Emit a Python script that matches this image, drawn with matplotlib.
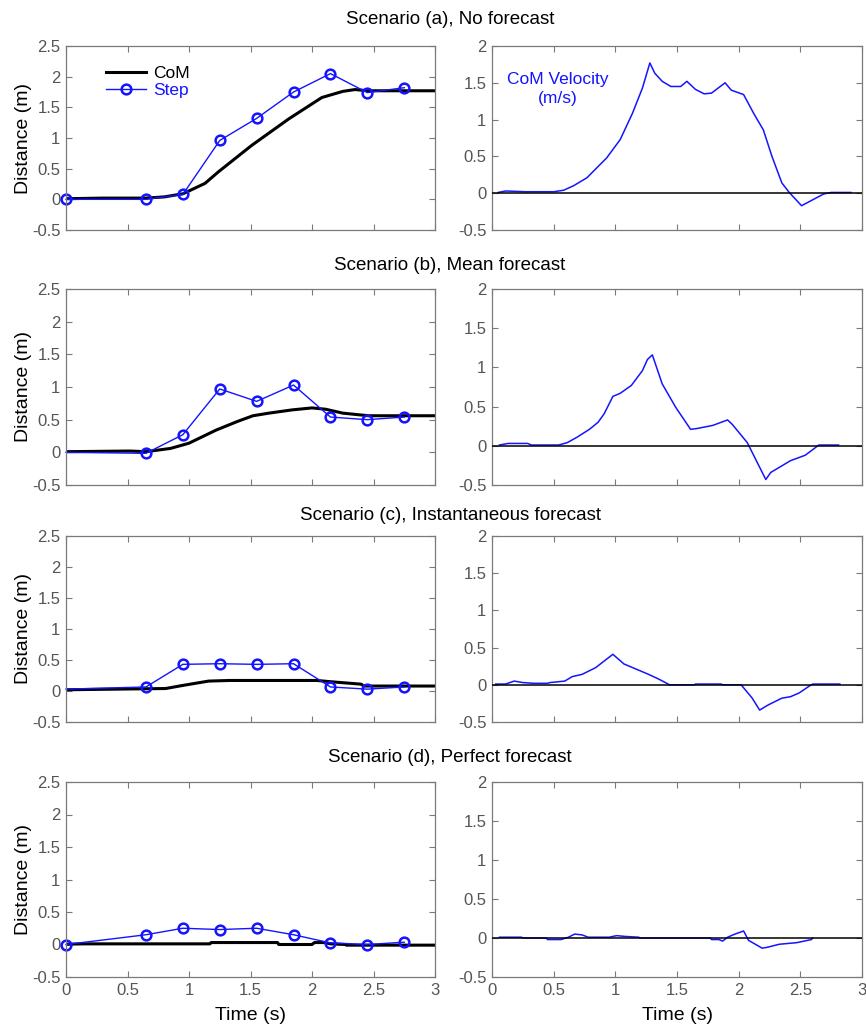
import matplotlib
matplotlib.use("Agg")
import matplotlib.pyplot as plt

plt.rcParams['font.family'] = ['Liberation Sans', 'DejaVu Sans']

# --- data ---
titles = ["Scenario (a), No forecast", "Scenario (b), Mean forecast",
          "Scenario (c), Instantaneous forecast", "Scenario (d), Perfect forecast"]

step_t = [0, 0.65, 0.95, 1.25, 1.55, 1.85, 2.15, 2.45, 2.75]
step_a = [0.0, 0.0, 0.08, 0.96, 1.32, 1.75, 2.05, 1.74, 1.82]
step_b = [0.0, -0.015, 0.27, 0.97, 0.78, 1.03, 0.54, 0.50, 0.54]
step_c = [0.03, 0.065, 0.43, 0.44, 0.43, 0.44, 0.065, 0.03, 0.065]
step_d = [0.0, 0.15, 0.25, 0.23, 0.25, 0.15, 0.025, 0.0, 0.035]

com_t_a = [0, 0.3, 0.65, 0.8, 0.95, 1.13, 1.24, 1.51, 1.81, 2.08, 2.25, 2.35, 2.45, 3.0]
com_a = [0.01, 0.02, 0.02, 0.04, 0.09, 0.26, 0.45, 0.88, 1.31, 1.66, 1.76, 1.79, 1.77, 1.77]

com_t_b = [0, 0.52, 0.65, 0.85, 1.0, 1.22, 1.39, 1.52, 1.65, 1.84, 2.0, 2.11, 2.25, 2.46, 3.0]
com_b = [0.01, 0.02, 0.01, 0.06, 0.14, 0.34, 0.47, 0.56, 0.60, 0.65, 0.68, 0.66, 0.60, 0.56, 0.56]

com_t_c = [0, 0.81, 0.95, 1.16, 1.33, 2.04, 2.15, 2.40, 2.42, 3.0]
com_c = [0.02, 0.04, 0.09, 0.16, 0.17, 0.17, 0.15, 0.11, 0.08, 0.08]

com_t_d = [0, 0.15, 1.17, 1.18, 1.72, 1.73, 2.0, 2.02, 2.1, 2.15, 2.27, 2.28, 3.0]
com_d = [0.005, 0.01, 0.01, 0.03, 0.03, 0.0, 0.0, 0.03, 0.03, 0.01, 0.0, -0.01, -0.01]

vel_t_a = [0.05, 0.11, 0.27, 0.50, 0.58, 0.66, 0.77, 0.93, 1.04, 1.14, 1.22, 1.28, 1.32,
           1.38, 1.45, 1.53, 1.58, 1.65, 1.72, 1.78, 1.89, 1.94, 2.04, 2.12, 2.20, 2.27,
           2.35, 2.41, 2.51, 2.69, 2.75, 2.91]
vel_a = [0.01, 0.03, 0.02, 0.02, 0.04, 0.10, 0.21, 0.48, 0.73, 1.09, 1.43, 1.77, 1.63,
         1.52, 1.45, 1.45, 1.52, 1.41, 1.35, 1.36, 1.50, 1.40, 1.34, 1.09, 0.86, 0.50,
         0.14, 0.01, -0.17, -0.01, 0.01, 0.01]

vel_t_b = [0.06, 0.13, 0.29, 0.32, 0.54, 0.61, 0.69, 0.79, 0.86, 0.91, 0.98, 1.04, 1.13,
           1.22, 1.26, 1.30, 1.38, 1.49, 1.61, 1.66, 1.79, 1.91, 1.95, 2.07, 2.22, 2.26,
           2.42, 2.54, 2.65, 2.81]
vel_b = [0.01, 0.03, 0.03, 0.01, 0.01, 0.04, 0.11, 0.21, 0.30, 0.41, 0.63, 0.67, 0.77,
         0.96, 1.10, 1.16, 0.79, 0.49, 0.21, 0.22, 0.26, 0.33, 0.27, 0.04, -0.43, -0.34,
         -0.19, -0.12, 0.01, 0.01]

vel_t_c = [0.03, 0.11, 0.18, 0.25, 0.34, 0.45, 0.47, 0.59, 0.65, 0.73, 0.84, 0.98, 1.07,
           1.17, 1.27, 1.36, 1.44, 1.64, 1.65, 1.86, 1.87, 2.02, 2.11, 2.17, 2.24, 2.35,
           2.42, 2.49, 2.57, 2.60, 2.82]
vel_c = [0.01, 0.01, 0.05, 0.03, 0.02, 0.02, 0.03, 0.05, 0.11, 0.14, 0.23, 0.41, 0.28,
         0.21, 0.14, 0.07, 0.0, 0.0, 0.01, 0.01, 0.0, 0.0, -0.18, -0.34, -0.27, -0.18,
         -0.16, -0.11, -0.02, 0.01, 0.01]

vel_t_d = [0.06, 0.24, 0.25, 0.44, 0.45, 0.56, 0.62, 0.67, 0.73, 0.78, 0.95, 1.01, 1.08,
           1.19, 1.20, 1.77, 1.78, 1.84, 1.87, 1.91, 1.97, 2.04, 2.08, 2.19, 2.23, 2.33,
           2.47, 2.59, 2.60]
vel_d = [0.01, 0.01, 0.0, 0.0, -0.02, -0.02, 0.01, 0.05, 0.04, 0.01, 0.01, 0.03, 0.02,
         0.01, 0.0, 0.0, -0.02, -0.02, -0.04, 0.01, 0.05, 0.09, -0.03, -0.13, -0.12, -0.08,
         -0.06, -0.02, 0.0]

steps = [step_a, step_b, step_c, step_d]
com_ts = [com_t_a, com_t_b, com_t_c, com_t_d]
coms = [com_a, com_b, com_c, com_d]
vel_ts = [vel_t_a, vel_t_b, vel_t_c, vel_t_d]
vels = [vel_a, vel_b, vel_c, vel_d]
first_marker = [True, False, False, True]

x_ticks = [0, 0.5, 1, 1.5, 2, 2.5, 3]
x_labels = ["0", "0.5", "1", "1.5", "2", "2.5", "3"]
left_ticks = [-0.5, 0, 0.5, 1, 1.5, 2, 2.5]
left_labels = ["-0.5", "0", "0.5", "1", "1.5", "2", "2.5"]
right_ticks = [-0.5, 0, 0.5, 1, 1.5, 2]
right_labels = ["-0.5", "0", "0.5", "1", "1.5", "2"]

# --- layout in pixels ---
W, H = 866, 1035
rows_px = [(46, 230), (289, 485), (536, 722), (782, 977)]
title_y = [20, 265, 515, 757]
title_x = 450
left_x = (66, 435)
right_x = (492, 862)
tick_col = '#555555'
spine_col = '#7a7a7a'
blue = '#1414ff'


def make_ax(fig, xr, yr):
    ax = fig.add_axes([xr[0] / W, 1 - yr[1] / H, (xr[1] - xr[0]) / W, (yr[1] - yr[0]) / H])
    for s in ax.spines.values():
        s.set_color(spine_col)
        s.set_linewidth(0.9)
    ax.tick_params(direction='in', top=True, right=True, length=4, width=0.8,
                   color=spine_col, labelcolor=tick_col, labelsize=12, pad=4)
    ax.set_xlim(0, 3)
    ax.set_xticks(x_ticks)
    return ax


fig = plt.figure(figsize=(W / 100, H / 100), dpi=100)

for i in range(4):
    fig.text(title_x / W, 1 - title_y[i] / H, titles[i], ha='center', va='center', fontsize=13.5)
    last = i == 3

    # left: distance
    ax = make_ax(fig, left_x, rows_px[i])
    ax.plot(com_ts[i], coms[i], color='black', lw=2.2, label='CoM')
    mk = list(range(len(step_t))) if first_marker[i] else list(range(1, len(step_t)))
    ax.plot(step_t, steps[i], color=blue, lw=1, marker='o', ms=7, mfc='none',
            mec=blue, mew=1.8, markevery=mk, label='Step', clip_on=False)
    ax.set_ylim(-0.5, 2.5)
    ax.set_yticks(left_ticks)
    ax.set_yticklabels(left_labels)
    ax.set_ylabel("Distance (m)", fontsize=14, labelpad=0)
    if last:
        ax.set_xticklabels(x_labels)
        ax.set_xlabel("Time (s)", fontsize=14, labelpad=7)
    else:
        ax.set_xticklabels([])
    if i == 0:
        leg = ax.legend(loc='upper left', bbox_to_anchor=(0.075, 0.96), frameon=False,
                        fontsize=12.5, handlelength=2.3, handletextpad=0.4, labelspacing=0.15,
                        borderpad=0.2)
        leg.get_texts()[1].set_color(blue)

    # right: velocity
    ax2 = make_ax(fig, right_x, rows_px[i])
    ax2.plot(vel_ts[i], vels[i], color=blue, lw=1.1)
    ax2.axhline(0, color='black', lw=1.1, zorder=3)
    ax2.set_ylim(-0.5, 2)
    ax2.set_yticks(right_ticks)
    ax2.set_yticklabels(right_labels)
    if last:
        ax2.set_xticklabels(x_labels)
        ax2.set_xlabel("Time (s)", fontsize=14, labelpad=7)
    else:
        ax2.set_xticklabels([])
    if i == 0:
        ax2.text(0.53, 1.42, "CoM Velocity\n(m/s)", color=blue, fontsize=12.5,
                 ha='center', va='center', linespacing=1.35)

fig.savefig("out.png", dpi=100)
